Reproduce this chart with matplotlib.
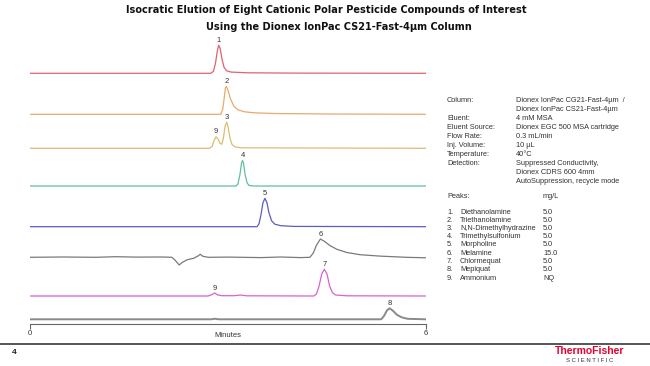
import matplotlib
matplotlib.use("Agg")
import matplotlib.pyplot as plt
from matplotlib import font_manager

# ---- data (time in min, signal in arbitrary units) ----
t1 = [0, 2.74, 2.78, 2.81, 2.84, 2.86, 2.88, 2.91, 2.94, 2.98, 3.05, 3.3, 4.0, 6]
s1 = [0, 0, 2, 10, 23, 28, 25, 14, 6, 2.5, 1.2, 0.5, 0.2, 0]

t2 = [0, 2.89, 2.92, 2.94, 2.96, 2.975, 3.0, 3.04, 3.09, 3.15, 3.25, 3.4, 3.7, 4.5, 6]
s2 = [0, 0, 5, 15, 26, 28, 24, 15, 8, 4.5, 2.5, 1.5, 0.8, 0.3, 0]

t3 = [0, 2.72, 2.76, 2.79, 2.82, 2.85, 2.88, 2.905, 2.93, 2.955, 2.98, 3.0, 3.03, 3.06, 3.1, 3.2, 6]
s3 = [0, 0, 2, 8, 11.5, 9, 5, 4, 10, 22, 26, 22, 10, 4, 1.5, 0.5, 0]

t4 = [0, 3.12, 3.15, 3.18, 3.205, 3.22, 3.235, 3.26, 3.29, 3.32, 3.4, 6]
s4 = [0, 0, 2, 11, 23, 25.5, 23, 11, 3, 0.5, 0, 0]

t5 = [0, 3.44, 3.47, 3.5, 3.53, 3.56, 3.59, 3.62, 3.66, 3.71, 3.8, 4.0, 6]
s5 = [0, 0, 3, 12, 24, 28.4, 24, 14, 6, 2.5, 1, 0.3, 0]

t6 = [0, 0.5, 1.0, 1.3, 1.6, 2.0, 2.15, 2.2, 2.26, 2.31, 2.38, 2.48, 2.55, 2.58, 2.62,
      2.7, 3.0, 3.5, 3.8, 4.1, 4.24, 4.29, 4.34, 4.4, 4.46, 4.55, 4.65, 4.8, 5.0, 5.3, 5.7, 6.0]
s6 = [0, 0.3, 0, 0.6, 0.2, 0.3, 0, -3, -7.7, -5, -2.5, -1, 1.5, 3, 1,
      0, 0.2, -0.3, 0.3, -0.3, 0, 4, 12, 18.3, 16, 11.5, 8, 4.8, 2.6, 1.2, 0, -0.5]

t7 = [0, 2.7, 2.76, 2.8, 2.84, 2.9, 3.1, 3.19, 3.28, 4.3, 4.34, 4.38, 4.42, 4.46, 4.5,
      4.54, 4.58, 4.63, 4.8, 6]
s7 = [0, 0, 1.5, 3, 1.2, 0.3, 0.3, 1, 0.2, 0, 2, 10, 22, 26.7, 22, 10, 3.5, 1, 0.2, 0]

t8 = [0, 2.75, 2.8, 2.86, 5.32, 5.36, 5.41, 5.45, 5.5, 5.56, 5.63, 5.72, 6]
s8 = [0, 0, 0.6, 0, 0, 3, 9, 11, 8.5, 4.5, 2, 0.5, 0]

times = [t1, t2, t3, t4, t5, t6, t7, t8]
signals = [s1, s2, s3, s4, s5, s6, s7, s8]

# peak labels: (trace, retention time, label)
peak_labels = [(0, 2.86, "1"), (1, 2.975, "2"), (2, 2.82, "9"), (2, 2.98, "3"),
               (3, 3.22, "4"), (4, 3.56, "5"), (5, 4.4, "6"), (6, 2.8, "9"),
               (6, 4.46, "7"), (7, 5.45, "8")]

title1 = "Isocratic Elution of Eight Cationic Polar Pesticide Compounds of Interest"
title2 = "Using the Dionex IonPac CS21-Fast-4µm Column"

cond_labels = ["Column:", "", "Eluent:", "Eluent Source:", "Flow Rate:", "Inj. Volume:",
               "Temperature:", "Detection:", "", ""]
cond_values = ["Dionex IonPac CG21-Fast-4µm  /", "Dionex IonPac CS21-Fast-4µm", "4 mM MSA",
               "Dionex EGC 500 MSA cartridge", "0.3 mL/min", "10 µL", "40°C",
               "Suppressed Conductivity,", "Dionex CDRS 600 4mm",
               "AutoSuppression, recycle mode"]

peak_names = ["Diethanolamine", "Triethanolamine", "N,N-Dimethylhydrazine",
              "Trimethylsulfonium", "Morpholine", "Melamine", "Chlormequat",
              "Mepiquat", "Ammonium"]
peak_conc = ["5.0", "5.0", "5.0", "5.0", "5.0", "15.0", "5.0", "5.0", "NQ"]

# ---- style / layout ----
colors = ["#e2626c", "#e8aa6c", "#dcbc72", "#5fc09c", "#5b5ec2", "#7a7a7a", "#d862d2", "#8a8a8a"]
widths = [0.9, 0.9, 0.9, 0.9, 0.9, 0.9, 0.9, 1.4]
baseline_px = [73.3, 114.3, 148.3, 186.0, 226.7, 257.3, 296.0, 319.3]

W, H = 650, 366
plt.rcParams['font.family'] = ['Liberation Sans', 'DejaVu Sans']

# pick the narrowest bold face available for the title
fonts = font_manager.fontManager.ttflist
if any(f.name == 'Liberation Sans Narrow' for f in fonts):
    title_kw = dict(family='Liberation Sans Narrow')
    title_w = 386
elif any(f.name == 'DejaVu Sans' and f.stretch == 'condensed' for f in fonts):
    title_kw = dict(family='DejaVu Sans', fontstretch='condensed')
    title_w = 400
else:
    title_kw = dict(family='Liberation Sans')
    title_w = 408

fig = plt.figure(figsize=(6.5, 3.66), dpi=100)

def fx(px):
    return px / W

def fy(py):
    return 1 - py / H

ax_top, ax_bot = 30, 324
ax = fig.add_axes([fx(30), fy(ax_bot), fx(426) - fx(30), fy(ax_top) - fy(ax_bot)])
ax.set_xlim(0, 6)
ax.set_ylim(0, ax_bot - ax_top)

for i in range(8):
    off = ax_bot - baseline_px[i]
    ax.plot(times[i], [off + v for v in signals[i]], color=colors[i], lw=widths[i])

for tr, rt, lab in peak_labels:
    off = ax_bot - baseline_px[tr]
    h = max(v for t, v in zip(times[tr], signals[tr]) if abs(t - rt) < 0.03)
    ax.text(rt, off + h + 1.5, lab, ha='center', va='bottom', fontsize=5.5, color='#333333')

for sp in ['top', 'right', 'left']:
    ax.spines[sp].set_visible(False)
ax.spines['bottom'].set_color('#666666')
ax.spines['bottom'].set_linewidth(0.8)
ax.set_yticks([])
ax.set_xticks([0, 6])
ax.tick_params(axis='x', direction='out', length=3.5, width=0.8, color='#666666',
               labelsize=5.5, labelcolor='#333333', pad=0.5)
ax.set_xlabel("Minutes", fontsize=5.5, color='#333333', labelpad=-3)

# title, sized so the first line spans about the same width as in the slide
tt1 = fig.text(fx(326), fy(10), title1, ha='center', va='center', fontsize=9.5,
               fontweight='bold', color='#111111', **title_kw)
tt2 = fig.text(fx(339), fy(27.5), title2, ha='center', va='center', fontsize=9.5,
               fontweight='bold', color='#111111', **title_kw)
r = fig.canvas.get_renderer()
wpx = tt1.get_window_extent(r).width
fsz = 9.5 * title_w / wpx
tt1.set_fontsize(fsz)
tt2.set_fontsize(fsz)

# conditions block
fs = 5.3
tc = '#333333'
for i in range(len(cond_labels)):
    y = fy(101 + 8.9 * i)
    fig.text(fx(447), y, cond_labels[i], fontsize=fs, color=tc, va='center')
    fig.text(fx(516), y, cond_values[i], fontsize=fs, color=tc, va='center')

fig.text(fx(447), fy(196), "Peaks:", fontsize=fs, color=tc, va='center')
fig.text(fx(543), fy(196), "mg/L", fontsize=fs, color=tc, va='center')
for i in range(len(peak_names)):
    y = fy(212 + 8.25 * i)
    fig.text(fx(447), y, f"{i + 1}.", fontsize=fs, color=tc, va='center')
    fig.text(fx(460), y, peak_names[i], fontsize=fs, color=tc, va='center')
    fig.text(fx(543), y, peak_conc[i], fontsize=fs, color=tc, va='center')

# footer
fig.add_artist(plt.Line2D([0, 1], [fy(344), fy(344)], color='#555555', lw=1.4))
fig.text(fx(14), fy(353), "4", fontsize=6, fontweight='bold', color='#222222', ha='center', va='center')
fig.text(fx(590), fy(351), "ThermoFisher", fontsize=7.5, fontweight='bold', color='#e4002b',
         ha='center', va='center')
fig.text(fx(590), fy(361), "S C I E N T I F I C", fontsize=4.3, color='#333333',
         ha='center', va='center')

fig.savefig("out.png", dpi=100)
